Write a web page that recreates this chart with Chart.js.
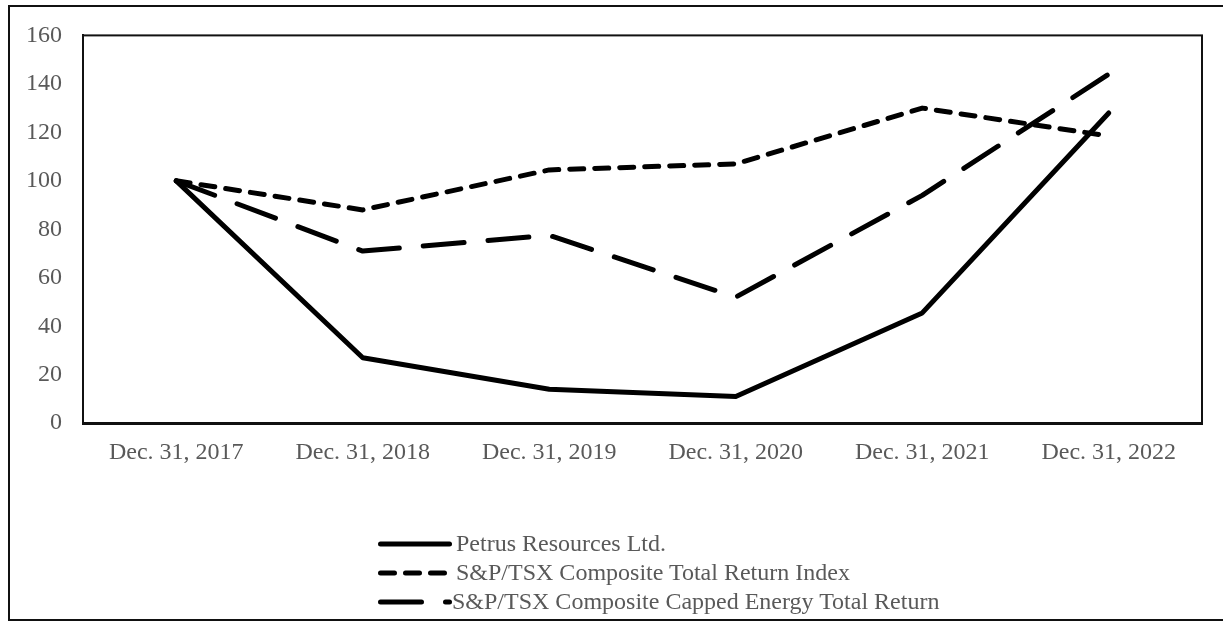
<!DOCTYPE html>
<html>
<head>
<meta charset="utf-8">
<title>Performance graph</title>
<script src="https://cdn.jsdelivr.net/npm/chart.js@4.4.0/dist/chart.umd.min.js"></script>
<style>
    html, body {
        margin: 0;
        padding: 0;
        width: 1223px;
        height: 622px;
        overflow: hidden;
        background: #fff;
    }
    #frame {
        position: absolute;
        left: 8px;
        top: 5px;
        width: 1240px;
        height: 612px;
        border: 2px solid #111;
    }
    #chartBox {
        position: absolute;
        left: 0;
        top: 0;
        width: 1223px;
        height: 622px;
    }
    #legend {
        position: absolute;
        left: 378px;
        top: 529px;
        font-family: "Liberation Serif", "Times New Roman", serif;
        font-size: 24px;
        color: #595959;
    }
    .legend-row {
        height: 29px;
        line-height: 29px;
        display: flex;
        align-items: center;
        white-space: nowrap;
    }
    .legend-row svg {
        margin-right: 4px;
    }
    .legend-row.last span {
        margin-left: -4px;
    }
</style>
</head>
<body>
<div id="frame"></div>
<div id="chartBox"><canvas id="perfChart" width="1223" height="622"></canvas></div>
<div id="legend"></div>

<script>
// data
const categories = ['Dec. 31, 2017', 'Dec. 31, 2018', 'Dec. 31, 2019', 'Dec. 31, 2020', 'Dec. 31, 2021', 'Dec. 31, 2022'];
const petrus = [100, 27, 14, 11, 45.5, 128];
const tsxTotalReturn = [100, 88, 104.5, 107, 130, 118.5];
const tsxCappedEnergy = [100, 71, 77.5, 52, 94, 144];
const seriesNames = [
    'Petrus Resources Ltd.',
    'S&P/TSX Composite Total Return Index',
    'S&P/TSX Composite Capped Energy Total Return'
];
const yTicks = [0, 20, 40, 60, 80, 100, 120, 140, 160];

const labelFont = { family: '"Liberation Serif", "Times New Roman", serif', size: 24 };
const labelColor = '#595959';

// box around the plot area
const plotBorder = {
    id: 'plotBorder',
    afterDraw(chart) {
        const { ctx, chartArea } = chart;
        ctx.save();
        ctx.strokeStyle = '#111';
        ctx.lineWidth = 2;
        ctx.strokeRect(chartArea.left, chartArea.top, chartArea.right - chartArea.left, chartArea.bottom - chartArea.top);
        ctx.restore();
    }
};

function lineSet(label, data, dash) {
    return {
        label: label,
        data: data,
        borderColor: '#000',
        backgroundColor: '#000',
        borderWidth: 5,
        borderDash: dash,
        borderCapStyle: 'round',
        borderJoinStyle: 'round',
        pointRadius: 0,
        tension: 0,
        fill: false
    };
}

const ctx = document.getElementById('perfChart').getContext('2d');
const perfChart = new Chart(ctx, {
    type: 'line',
    data: {
        labels: categories,
        datasets: [
            lineSet(seriesNames[0], petrus, []),
            lineSet(seriesNames[1], tsxTotalReturn, [14, 11]),
            lineSet(seriesNames[2], tsxCappedEnergy, [41, 24])
        ]
    },
    options: {
        responsive: false,
        animation: false,
        layout: {
            // tick padding counts twice in the axis size
            padding: { left: 5, top: 35, right: 21, bottom: 140 }
        },
        plugins: {
            legend: { display: false },
            tooltip: { enabled: false }
        },
        scales: {
            x: {
                offset: true,
                grid: { display: false, drawTicks: false },
                border: { display: true, color: '#111', width: 3 },
                ticks: {
                    font: labelFont,
                    color: labelColor,
                    padding: 15,
                    maxRotation: 0,
                    autoSkip: false
                }
            },
            y: {
                min: yTicks[0],
                max: yTicks[yTicks.length - 1],
                grid: { display: false, drawTicks: false },
                border: { display: true, color: '#111', width: 2 },
                afterBuildTicks(axis) {
                    axis.ticks = yTicks.map(v => ({ value: v }));
                },
                ticks: {
                    font: labelFont,
                    color: labelColor,
                    padding: 21
                }
            }
        }
    },
    plugins: [plotBorder]
});

// legend, one row per series, built from the datasets
function buildLegend(chart) {
    const legendBox = document.getElementById('legend');
    legendBox.innerHTML = '';
    const sets = chart.data.datasets;
    sets.forEach((ds, i) => {
        const row = document.createElement('div');
        row.className = 'legend-row' + (i === sets.length - 1 ? ' last' : '');
        const svgNS = 'http://www.w3.org/2000/svg';
        const svg = document.createElementNS(svgNS, 'svg');
        svg.setAttribute('width', '74');
        svg.setAttribute('height', '10');
        const line = document.createElementNS(svgNS, 'line');
        line.setAttribute('x1', '2.5');
        line.setAttribute('x2', '71.5');
        line.setAttribute('y1', '5');
        line.setAttribute('y2', '5');
        line.setAttribute('stroke', ds.borderColor);
        line.setAttribute('stroke-width', ds.borderWidth);
        line.setAttribute('stroke-linecap', 'round');
        if (ds.borderDash.length) {
            line.setAttribute('stroke-dasharray', ds.borderDash.join(' '));
        }
        svg.appendChild(line);
        const text = document.createElement('span');
        text.textContent = ds.label;
        row.appendChild(svg);
        row.appendChild(text);
        legendBox.appendChild(row);
    });
}

buildLegend(perfChart);
</script>
</body>
</html>
